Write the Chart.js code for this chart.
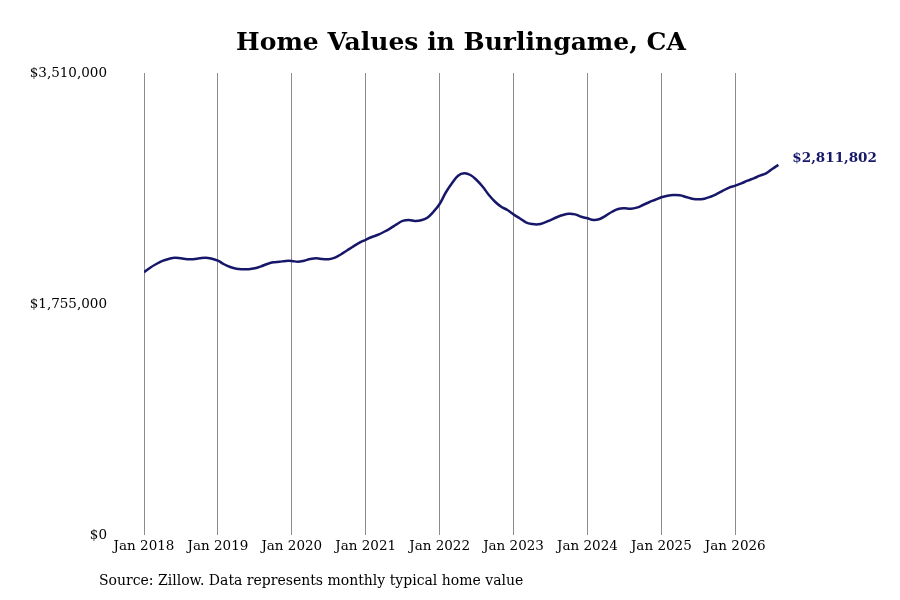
<!DOCTYPE html>
<html>
<head>
<meta charset="utf-8">
<script src="https://cdn.jsdelivr.net/npm/chart.js@4"></script>
<style>
  html, body { margin: 0; padding: 0; background: #fff; }
  #wrap { width: 900px; height: 600px; }
</style>
</head>
<body>
<div id="wrap"><canvas id="homeChart"></canvas></div>
<script>
// monthly typical home value, Jan 2018 .. Aug 2026
const homeValues = [
    1996000, 2031000, 2059000, 2082000, 2097000, 2107000, 2102000, 2095000, 2095000, 2102000, 2107000, 2099000,
    2084000, 2057000, 2036000, 2023000, 2019000, 2019000, 2026000, 2041000, 2059000, 2072000, 2076000, 2082000,
    2082000, 2076000, 2084000, 2097000, 2102000, 2097000, 2095000, 2107000, 2133000, 2163000, 2193000, 2221000,
    2243000, 2264000, 2281000, 2304000, 2330000, 2360000, 2386000, 2393000, 2386000, 2391000, 2411000, 2456000,
    2515000, 2602000, 2672000, 2730000, 2748000, 2735000, 2697000, 2646000, 2583000, 2532000, 2494000, 2469000,
    2436000, 2406000, 2376000, 2363000, 2360000, 2373000, 2393000, 2414000, 2431000, 2441000, 2436000, 2418000,
    2406000, 2393000, 2401000, 2426000, 2456000, 2477000, 2482000, 2479000, 2487000, 2507000, 2528000, 2547000,
    2566000, 2578000, 2583000, 2581000, 2568000, 2555000, 2550000, 2555000, 2570000, 2591000, 2616000, 2639000,
    2654000, 2672000, 2692000, 2710000, 2730000, 2748000, 2781000, 2811802
];

const tickLabels = ["Jan 2018", "Jan 2019", "Jan 2020", "Jan 2021", "Jan 2022",
                    "Jan 2023", "Jan 2024", "Jan 2025", "Jan 2026"];
const yTicks = [0, 1755000, 3510000];

const titleText = "Home Values in Burlingame, CA";
const sourceText = "Source: Zillow. Data represents monthly typical home value";

const serif = "'DejaVu Serif', 'Liberation Serif', serif";
const lineColor = "#17176a";

const fmt = v => "$" + v.toLocaleString("en-US");

// extra text: source line under the axis and last value label
const extraText = {
    id: "extraText",
    afterDraw(chart) {
        const c = chart.ctx;
        const xs = chart.scales.x, ys = chart.scales.y;
        const last = homeValues.length - 1;
        c.save();
        c.fillStyle = lineColor;
        c.font = "bold 13.5px " + serif;
        c.textAlign = "left";
        c.textBaseline = "middle";
        c.fillText(fmt(homeValues[last]), xs.getPixelForValue(last) + 14, ys.getPixelForValue(homeValues[last]) - 6);

        c.fillStyle = "#000";
        c.font = "14px " + serif;
        c.fillText(sourceText, 99, 581);
        c.restore();
    }
};

const ctx = document.getElementById("homeChart").getContext("2d");
const homeChart = new Chart(ctx, {
    type: "line",
    data: {
        datasets: [{
            data: homeValues.map((v, i) => ({ x: i, y: v })),
            borderColor: lineColor,
            borderWidth: 2.5,
            pointRadius: 0,
            tension: 0.4,
            fill: false
        }]
    },
    options: {
        responsive: true,
        maintainAspectRatio: false,
        animation: false,
        layout: { padding: { left: 22, right: 0, top: 0, bottom: 0 } },
        plugins: {
            legend: { display: false },
            tooltip: { enabled: false },
            title: {
                display: true,
                text: titleText,
                color: "#000",
                font: { family: serif, size: 25, weight: "bold" },
                padding: { top: 28, bottom: 15 }
            }
        },
        scales: {
            x: {
                type: "linear",
                min: 0,
                max: 122.75,
                border: { display: false },
                grid: { color: "#8c8c8c", lineWidth: 1, drawTicks: false },
                afterBuildTicks: s => { s.ticks = tickLabels.map((t, i) => ({ value: i * 12 })); },
                afterFit: s => { s.height = 65; },
                ticks: {
                    autoSkip: false,
                    maxRotation: 0,
                    padding: 3,
                    color: "#000",
                    font: { family: serif, size: 13.5 },
                    callback: v => tickLabels[v / 12]
                }
            },
            y: {
                min: 0,
                max: 3510000,
                border: { display: false },
                grid: { display: false, drawTicks: false },
                afterBuildTicks: s => { s.ticks = yTicks.map(v => ({ value: v })); },
                afterFit: s => { s.width = 122; },
                ticks: {
                    padding: 37,
                    color: "#000",
                    font: { family: serif, size: 13.5 },
                    callback: v => fmt(v)
                }
            }
        }
    },
    plugins: [extraText]
});
</script>
</body>
</html>
